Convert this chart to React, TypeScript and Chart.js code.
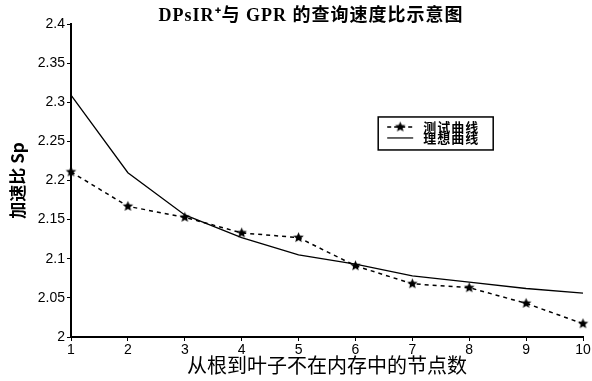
import React, { useEffect, useRef } from "react";
import { Chart, registerables } from "chart.js";

Chart.register(...registerables);

const categories = ["1", "2", "3", "4", "5", "6", "7", "8", "9", "10"];
const testValues = [2.211, 2.167, 2.153, 2.133, 2.127, 2.091, 2.068, 2.063, 2.043, 2.017];
const idealValues = [2.309, 2.21, 2.156, 2.127, 2.105, 2.093, 2.078, 2.07, 2.062, 2.056];
const testLabel = "测试曲线";
const idealLabel = "理想曲线";
const titleText = "DPsIR⁺与 GPR 的查询速度比示意图";
const xTitle = "从根到叶子不在内存中的节点数";
const yTitle = "加速比 Sp";

function makeStar(r: number) {
  const s = Math.ceil(r * 2 + 2);
  const c = document.createElement("canvas");
  c.width = s;
  c.height = s;
  const ctx = c.getContext("2d")!;
  ctx.beginPath();
  for (let i = 0; i < 10; i++) {
    const a = -Math.PI / 2 + (i * Math.PI) / 5;
    const rr = i % 2 ? r * 0.45 : r;
    ctx.lineTo(s / 2 + rr * Math.cos(a), s / 2 + rr * Math.sin(a));
  }
  ctx.closePath();
  ctx.fillStyle = "#000";
  ctx.fill();
  return c;
}

export default function App() {
  const ref = useRef<HTMLCanvasElement>(null);
  useEffect(() => {
    document.body.style.margin = "0";
    const star = makeStar(5.5);
    const overlay = {
      id: "overlay",
      afterDraw(chart: any) {
        const ctx = chart.ctx;
        const ca = chart.chartArea;
        ctx.save();
        // title
        ctx.fillStyle = "#000";
        ctx.font = 'bold 18px "Liberation Serif", "Noto Sans CJK SC"';
        (ctx as any).letterSpacing = "1px";
        ctx.textAlign = "center";
        ctx.textBaseline = "middle";
        ctx.fillText(titleText, 311, 16);
        (ctx as any).letterSpacing = "0px";
        // legend
        const bx = ca.left + ca.width * 0.6;
        const by = ca.top + ca.height * 0.297;
        const bw = 115;
        const bh = 33;
        ctx.fillStyle = "#fff";
        ctx.fillRect(bx, by, bw, bh);
        ctx.strokeStyle = "#000";
        ctx.lineWidth = 1.5;
        ctx.strokeRect(bx, by, bw, bh);
        const y1 = by + 10;
        const y2 = by + 21;
        ctx.lineWidth = 1.5;
        ctx.setLineDash([4, 3]);
        ctx.beginPath();
        ctx.moveTo(bx + 9, y1);
        ctx.lineTo(bx + 35, y1);
        ctx.stroke();
        ctx.setLineDash([]);
        ctx.drawImage(star, bx + 22 - star.width / 2, y1 - star.height / 2);
        ctx.lineWidth = 1.2;
        ctx.beginPath();
        ctx.moveTo(bx + 9, y2);
        ctx.lineTo(bx + 35, y2);
        ctx.stroke();
        ctx.fillStyle = "#000";
        ctx.font = 'bold 13px "Noto Sans CJK SC"';
        (ctx as any).letterSpacing = "1px";
        ctx.textAlign = "left";
        ctx.textBaseline = "middle";
        ctx.fillText(testLabel, bx + 45, y1);
        ctx.fillText(idealLabel, bx + 45, y2);
        ctx.restore();
      },
    };
    const chart = new Chart(ref.current!, {
      type: "line",
      data: {
        labels: categories,
        datasets: [
          {
            label: idealLabel,
            data: idealValues,
            borderColor: "#000",
            borderWidth: 1.3,
            pointRadius: 0,
            tension: 0,
          },
          {
            label: testLabel,
            data: testValues,
            borderColor: "#000",
            borderWidth: 1.5,
            borderDash: [4, 4],
            pointStyle: star as any,
            pointRadius: 5,
            tension: 0,
          },
        ],
      },
      options: {
        animation: false,
        responsive: false,
        devicePixelRatio: 1,
        layout: { padding: { top: 24, right: 9, left: 0, bottom: 0 } },
        plugins: { legend: { display: false }, title: { display: false }, tooltip: { enabled: false } },
        scales: {
          x: {
            type: "category",
            offset: false,
            afterFit: (s: any) => {
              s.height = 44;
            },
            grid: { drawOnChartArea: false, tickLength: 4, color: "#000" },
            border: { color: "#000", width: 2 },
            ticks: {
              color: "#000",
              padding: 1,
              maxRotation: 0,
              font: { family: '"Liberation Sans", Arial', size: 14 },
            },
            title: {
              display: true,
              text: xTitle,
              color: "#000",
              font: { family: '"Noto Sans CJK SC"', size: 20 },
              padding: { top: 0, bottom: 4 },
            },
          },
          y: {
            min: 2,
            max: 2.4,
            afterFit: (s: any) => {
              s.width = 71;
            },
            grid: { drawOnChartArea: false, tickLength: 4, color: "#000" },
            border: { color: "#000", width: 2 },
            ticks: {
              stepSize: 0.05,
              color: "#000",
              padding: 2,
              font: { family: '"Liberation Sans", Arial', size: 14 },
              callback: (v: any) => String(Number(Number(v).toFixed(2))),
            },
            title: {
              display: true,
              text: yTitle,
              color: "#000",
              font: { family: '"Noto Sans CJK SC"', size: 17, weight: "bold" },
              padding: { top: 7, bottom: 0 },
            },
          },
        },
      },
      plugins: [overlay],
    });
    return () => chart.destroy();
  }, []);
  return (
    <div style={{ width: 592, height: 381, background: "#fff" }}>
      <canvas ref={ref} width={592} height={381} />
    </div>
  );
}
